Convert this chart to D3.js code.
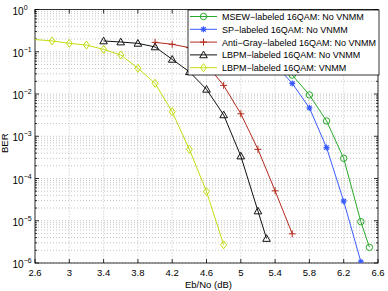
<!DOCTYPE html>
<html>
<head>
<meta charset="utf-8">
<script src="https://cdn.jsdelivr.net/npm/d3@7"></script>
<style>
  body { margin: 0; background: #fff; }
  text { font-family: "Liberation Sans", Arial, sans-serif; }
</style>
</head>
<body>
<script>
'use strict';
// BER curves (hidden points under the legend are estimates)
const xTicks = [2.6, 3, 3.4, 3.8, 4.2, 4.6, 5, 5.4, 5.8, 6.2, 6.6];
const yDecades = [0, -1, -2, -3, -4, -5, -6];

const msewX = [5.2, 5.4, 5.6, 5.8, 6.0, 6.2, 6.4, 6.5];
const msewY = [0.12, 0.07, 0.028, 0.0095, 0.0023, 3.0e-4, 9.5e-6, 2.35e-6];

const spX = [5.0, 5.2, 5.4, 5.6, 5.8, 6.0, 6.2, 6.4];
const spY = [0.15, 0.1, 0.05, 0.0178, 0.0047, 5.4e-4, 2.9e-5, 1.07e-6];

const antiX = [4.0, 4.2, 4.4, 4.6, 4.8, 5.0, 5.2, 5.4, 5.6];
const antiY = [0.167, 0.15, 0.125, 0.05, 0.016, 0.0034, 4.9e-4, 5.1e-5, 4.9e-6];

const lbpmX = [3.4, 3.6, 3.8, 4.0, 4.2, 4.4, 4.6, 4.8, 5.0, 5.2, 5.3];
const lbpmY = [0.18, 0.17, 0.158, 0.13, 0.066, 0.0337, 0.0129, 0.0032, 3.4e-4, 1.7e-5, 3.8e-6];

const vnmmX = [2.4, 2.8, 3.0, 3.2, 3.4, 3.6, 3.8, 4.0, 4.2, 4.4, 4.6, 4.8];
const vnmmY = [0.21, 0.18, 0.158, 0.144, 0.114, 0.0838, 0.0406, 0.0179, 0.0038, 4.9e-4, 4.9e-5, 2.7e-6];

const seriesNames = [
  "MSEW\u2212labeled 16QAM: No VNMM",
  "SP\u2212labeled 16QAM: No VNMM",
  "Anti\u2212Gray\u2212labeled 16QAM: No VNMM",
  "LBPM\u2212labeled 16QAM: No VNMM",
  "LBPM\u2212labeled 16QAM: VNMM"
];
const seriesColors = ["#2aa82a", "#3a5cff", "#b32a1c", "#111111", "#c4dc10"];
const seriesMarkers = ["circle", "star", "plus", "triangle", "diamond"];

(function () {
  const W = 388, H = 291;
  const pLeft = 35, pRight = 378, pTop = 9.5, pBottom = 263;

  const svg = d3.select("body").append("svg")
    .attr("width", W).attr("height", H);

  const x = d3.scaleLinear().domain([2.6, 6.6]).range([pLeft, pRight]);
  const y = d3.scaleLog().domain([1e-6, 1]).range([pBottom, pTop]);

  // grid
  const grid = svg.append("g")
    .attr("stroke", "#b5b5b5")
    .attr("stroke-width", 0.8)
    .attr("stroke-dasharray", "1,2");

  xTicks.forEach((t) => {
    grid.append("line")
      .attr("x1", x(t)).attr("x2", x(t))
      .attr("y1", pTop).attr("y2", pBottom);
  });

  let minorVals = [];
  for (let k = -6; k < 0; k++) {
    for (let m = 1; m <= 9; m++) {
      minorVals.push(m * Math.pow(10, k));
    }
  }
  minorVals.push(1);
  minorVals.forEach((v) => {
    grid.append("line")
      .attr("x1", pLeft).attr("x2", pRight)
      .attr("y1", y(v)).attr("y2", y(v));
  });

  // axes box + ticks
  const axes = svg.append("g").attr("stroke", "#000").attr("stroke-width", 0.8);
  axes.append("rect")
    .attr("x", pLeft).attr("y", pTop)
    .attr("width", pRight - pLeft).attr("height", pBottom - pTop)
    .attr("fill", "none");

  xTicks.forEach((t) => {
    axes.append("line").attr("x1", x(t)).attr("x2", x(t)).attr("y1", pBottom).attr("y2", pBottom - 4);
    axes.append("line").attr("x1", x(t)).attr("x2", x(t)).attr("y1", pTop).attr("y2", pTop + 4);
  });
  minorVals.forEach((v) => {
    let isMajor = Math.abs(Math.log10(v) - Math.round(Math.log10(v))) < 1e-9;
    let len = isMajor ? 4 : 2;
    axes.append("line").attr("x1", pLeft).attr("x2", pLeft + len).attr("y1", y(v)).attr("y2", y(v));
    axes.append("line").attr("x1", pRight).attr("x2", pRight - len).attr("y1", y(v)).attr("y2", y(v));
  });

  // tick labels
  svg.append("g").selectAll("text")
    .data(xTicks)
    .enter()
    .append("text")
    .attr("x", (d) => x(d))
    .attr("y", pBottom + 12.5)
    .attr("text-anchor", "middle")
    .style("font-size", "9.5px")
    .text((d) => d);

  const yl = svg.append("g").selectAll("text")
    .data(yDecades)
    .enter()
    .append("text")
    .attr("x", 12.5)
    .attr("y", (d) => y(Math.pow(10, d)) + 5)
    .style("font-size", "10px")
    .text("10");
  yl.append("tspan")
    .attr("dy", -5)
    .style("font-size", "7px")
    .text((d) => d === 0 ? "0" : "\u2212" + (-d));

  svg.append("text")
    .attr("x", (pLeft + pRight) / 2 + 2)
    .attr("y", 287.5)
    .attr("text-anchor", "middle")
    .style("font-size", "9.5px")
    .text("Eb/No (dB)");

  svg.append("text")
    .attr("transform", "translate(7.5," + ((pTop + pBottom) / 2 + 7) + ")rotate(-90)")
    .attr("text-anchor", "middle")
    .style("font-size", "9.5px")
    .text("BER");

  // plot area clip
  svg.append("clipPath").attr("id", "plotclip")
    .append("rect")
    .attr("x", pLeft).attr("y", pTop)
    .attr("width", pRight - pLeft).attr("height", pBottom - pTop);

  function drawMarker(g, type, cx, cy, color) {
    if (type === "circle") {
      g.append("circle").attr("cx", cx).attr("cy", cy).attr("r", 3.2)
        .attr("fill", "none").attr("stroke", color).attr("stroke-width", 1);
    } else if (type === "diamond") {
      let s = 4;
      g.append("path")
        .attr("d", `M${cx},${cy - s}L${cx + 3},${cy}L${cx},${cy + s}L${cx - 3},${cy}Z`)
        .attr("fill", "none").attr("stroke", color).attr("stroke-width", 1);
    } else if (type === "triangle") {
      let s = 3.8;
      g.append("path")
        .attr("d", `M${cx},${cy - s}L${cx + s},${cy + s * 0.75}L${cx - s},${cy + s * 0.75}Z`)
        .attr("fill", "none").attr("stroke", color).attr("stroke-width", 1);
    } else if (type === "plus") {
      let s = 3.5;
      g.append("path")
        .attr("d", `M${cx - s},${cy}H${cx + s}M${cx},${cy - s}V${cy + s}`)
        .attr("stroke", color).attr("stroke-width", 1);
    } else if (type === "star") {
      let s = 3;
      let d = 2.2;
      g.append("path")
        .attr("d", `M${cx - s},${cy}H${cx + s}M${cx},${cy - s}V${cy + s}` +
          `M${cx - d},${cy - d}L${cx + d},${cy + d}M${cx - d},${cy + d}L${cx + d},${cy - d}`)
        .attr("stroke", color).attr("stroke-width", 1.2);
    }
  }

  const allX = [msewX, spX, antiX, lbpmX, vnmmX];
  const allY = [msewY, spY, antiY, lbpmY, vnmmY];

  const plot = svg.append("g").attr("clip-path", "url(#plotclip)");
  const line = d3.line().x((d) => x(d[0])).y((d) => y(d[1]));

  allX.forEach((xs, i) => {
    let pts = xs.map((v, j) => [v, allY[i][j]]);
    plot.append("path")
      .datum(pts)
      .attr("fill", "none")
      .attr("stroke", seriesColors[i])
      .attr("stroke-width", 1)
      .attr("d", line);
    let mg = plot.append("g");
    pts.forEach((p) => drawMarker(mg, seriesMarkers[i], x(p[0]), y(p[1]), seriesColors[i]));
  });

  // legend
  const lg = svg.append("g");
  lg.append("rect")
    .attr("x", 188).attr("y", 10)
    .attr("width", 191).attr("height", 65)
    .attr("fill", "#fff").attr("stroke", "#000").attr("stroke-width", 0.8);

  seriesNames.forEach((name, i) => {
    let cy = 16.5 + i * 12.8;
    lg.append("line")
      .attr("x1", 190).attr("x2", 217)
      .attr("y1", cy).attr("y2", cy)
      .attr("stroke", seriesColors[i]).attr("stroke-width", 1);
    drawMarker(lg, seriesMarkers[i], 203.5, cy, seriesColors[i]);
    lg.append("text")
      .attr("x", 222)
      .attr("y", cy + 3.5)
      .style("font-size", "9px")
      .text(name);
  });
})();
</script>
</body>
</html>
